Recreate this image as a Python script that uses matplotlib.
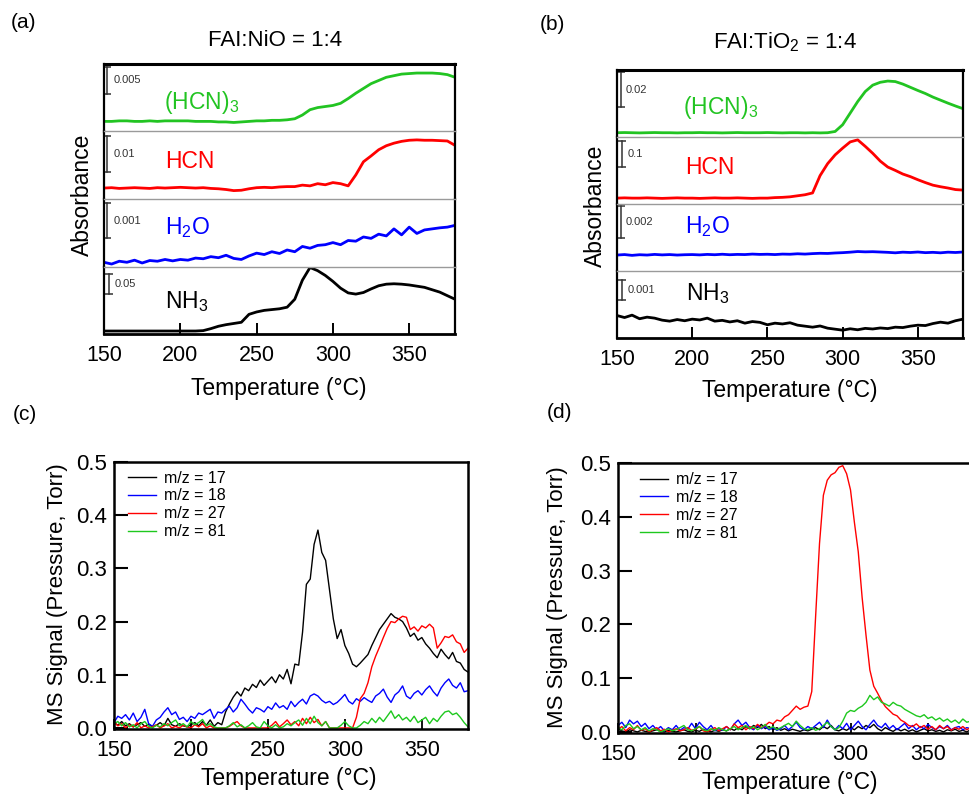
import matplotlib
matplotlib.use('Agg')
import matplotlib.pyplot as plt
from matplotlib.ticker import FormatStrFormatter
import numpy as np

plt.rcParams['font.family'] = ['Liberation Sans', 'DejaVu Sans']
plt.rcParams['mathtext.default'] = 'regular'

W, H = 969, 794

# ---------------- data ----------------
temp_ir = np.arange(150, 381, 5)        # FTIR traces, 5 degC steps
temp_ms = np.arange(150, 380.1, 2.5)    # MS traces, 2.5 degC steps

# (a) FAI:NiO, absorbance
a_hcn3 = [0.0000, 0.0000, 0.0001, 0.0001, 0.0000, 0.0000, 0.0001, 0.0000, 0.0001, 0.0001,
          0.0001, 0.0001, 0.0000, 0.0000, 0.0000, -0.0001, -0.0001, -0.0002, -0.0001, 0.0000,
          0.0001, 0.0001, 0.0002, 0.0002, 0.0003, 0.0005, 0.0012, 0.0022, 0.0026, 0.0028,
          0.0030, 0.0034, 0.0043, 0.0053, 0.0062, 0.0071, 0.0077, 0.0083, 0.0086, 0.0089,
          0.0090, 0.0091, 0.0091, 0.0091, 0.0090, 0.0088, 0.0083]
a_hcn = [0.0000, 0.0001, -0.0001, 0.0000, 0.0001, 0.0000, -0.0001, 0.0001, 0.0000, 0.0001,
         0.0002, 0.0001, 0.0000, 0.0001, -0.0001, -0.0002, -0.0004, -0.0007, -0.0006, -0.0002,
         0.0001, 0.0002, 0.0001, 0.0003, 0.0004, 0.0004, 0.0008, 0.0006, 0.0012, 0.0009,
         0.0015, 0.0012, 0.0006, 0.0036, 0.0072, 0.0088, 0.0105, 0.0116, 0.0123, 0.0128,
         0.0131, 0.0132, 0.0131, 0.0131, 0.0130, 0.0129, 0.0117]
a_h2o = [0.00000, -0.00005, 0.00003, 0.00000, 0.00006, -0.00002, 0.00005, 0.00003, 0.00008, 0.00004,
         0.00008, 0.00006, 0.00012, 0.00010, 0.00016, 0.00013, 0.00020, 0.00011, 0.00008, 0.00018,
         0.00026, 0.00022, 0.00030, 0.00025, 0.00035, 0.00030, 0.00045, 0.00040, 0.00048, 0.00050,
         0.00056, 0.00050, 0.00062, 0.00060, 0.00072, 0.00068, 0.00080, 0.00075, 0.00095, 0.00078,
         0.00100, 0.00082, 0.00092, 0.00095, 0.00098, 0.00100, 0.00105]
a_nh3 = [0.000, 0.000, 0.000, 0.000, 0.000, 0.000, 0.000, 0.000, 0.000, 0.000,
         0.000, 0.000, 0.000, 0.001, 0.006, 0.012, 0.016, 0.019, 0.022, 0.042,
         0.048, 0.052, 0.054, 0.056, 0.060, 0.080, 0.128, 0.160, 0.152, 0.140,
         0.125, 0.108, 0.096, 0.093, 0.097, 0.106, 0.114, 0.118, 0.119, 0.118,
         0.116, 0.113, 0.110, 0.104, 0.098, 0.089, 0.080]

# (b) FAI:TiO2, absorbance
b_hcn3 = [0.0000, 0.0001, 0.0000, -0.0001, 0.0000, 0.0001, 0.0000, 0.0000, -0.0001, 0.0000,
          0.0000, 0.0001, 0.0000, 0.0000, -0.0001, 0.0000, 0.0001, 0.0000, 0.0000, 0.0000,
          0.0001, 0.0000, -0.0001, 0.0000, 0.0000, -0.0001, 0.0000, -0.0001, 0.0000, 0.0007,
          0.0045, 0.0110, 0.0175, 0.0231, 0.0267, 0.0283, 0.0290, 0.0287, 0.0273, 0.0255,
          0.0237, 0.0220, 0.0200, 0.0183, 0.0166, 0.0150, 0.0135]
b_hcn = [0.000, 0.001, 0.000, 0.000, 0.001, 0.000, -0.001, 0.000, 0.001, 0.000,
         0.000, -0.001, 0.000, 0.001, 0.000, 0.000, 0.001, 0.000, -0.001, 0.000,
         0.000, 0.002, 0.003, 0.005, 0.009, 0.013, 0.020, 0.087, 0.133, 0.167,
         0.193, 0.217, 0.225, 0.200, 0.173, 0.143, 0.120, 0.107, 0.093, 0.083,
         0.071, 0.060, 0.050, 0.044, 0.039, 0.033, 0.031]
b_h2o = [0.00000, 0.00003, -0.00002, 0.00002, 0.00000, 0.00004, 0.00001, 0.00003, 0.00000, 0.00002,
         0.00003, 0.00001, 0.00004, 0.00002, 0.00005, 0.00002, 0.00004, 0.00003, 0.00006, 0.00004,
         0.00005, 0.00003, 0.00006, 0.00005, 0.00008, 0.00006, 0.00009, 0.00011, 0.00010, 0.00013,
         0.00015, 0.00018, 0.00022, 0.00020, 0.00021, 0.00019, 0.00017, 0.00014, 0.00018, 0.00016,
         0.00019, 0.00015, 0.00017, 0.00014, 0.00018, 0.00016, 0.00019]
b_nh3 = [0.00068, 0.00058, 0.00070, 0.00052, 0.00060, 0.00055, 0.00045, 0.00040, 0.00048, 0.00042,
         0.00050, 0.00046, 0.00055, 0.00040, 0.00044, 0.00036, 0.00042, 0.00030, 0.00038, 0.00034,
         0.00022, 0.00030, 0.00026, 0.00032, 0.00020, 0.00015, 0.00010, 0.00016, 0.00005, 0.00000,
         -0.00005, 0.00002, -0.00003, 0.00004, 0.00001, 0.00006, 0.00003, 0.00010, 0.00008, 0.00015,
         0.00020, 0.00018, 0.00028, 0.00035, 0.00030, 0.00042, 0.00050]

# scale bar sizes shown in each strip
a_bars = [0.005, 0.01, 0.001, 0.05]
b_bars = [0.02, 0.1, 0.002, 0.001]
species = ['(HCN)$_3$', 'HCN', 'H$_2$O', 'NH$_3$']

# (c) FAI:NiO, MS signal (Torr)
c_m17 = [0.010, 0.005, 0.012, 0.004, 0.008, 0.002, 0.006, 0.010, 0.003, 0.007,
         0.002, 0.005, 0.010, 0.004, 0.018, 0.006, 0.003, 0.008, 0.004, 0.002,
         0.006, 0.010, 0.004, 0.012, 0.005, 0.015, 0.003, 0.010, 0.006, 0.030,
         0.045, 0.058, 0.068, 0.060, 0.075, 0.070, 0.082, 0.076, 0.090, 0.080,
         0.088, 0.096, 0.085, 0.100, 0.092, 0.110, 0.083, 0.120, 0.118, 0.180,
         0.270, 0.280, 0.345, 0.372, 0.330, 0.315, 0.260, 0.205, 0.168, 0.185,
         0.155, 0.140, 0.120, 0.115, 0.122, 0.130, 0.138, 0.155, 0.170, 0.185,
         0.195, 0.205, 0.215, 0.208, 0.205, 0.200, 0.188, 0.172, 0.178, 0.165,
         0.170, 0.158, 0.150, 0.140, 0.132, 0.148, 0.138, 0.130, 0.142, 0.125,
         0.122, 0.110, 0.105]
c_m18 = [0.010, 0.022, 0.018, 0.025, 0.015, 0.028, 0.012, 0.020, 0.035, 0.008,
         0.003, 0.015, 0.020, 0.030, 0.038, 0.025, 0.030, 0.016, 0.020, 0.012,
         0.022, 0.018, 0.028, 0.025, 0.030, 0.035, 0.018, 0.030, 0.028, 0.035,
         0.041, 0.030, 0.038, 0.054, 0.045, 0.035, 0.028, 0.038, 0.035, 0.030,
         0.040, 0.035, 0.047, 0.038, 0.042, 0.035, 0.050, 0.040, 0.048, 0.054,
         0.045, 0.060, 0.064, 0.060, 0.052, 0.047, 0.050, 0.044, 0.048, 0.055,
         0.063, 0.050, 0.045, 0.055, 0.050, 0.057, 0.052, 0.048, 0.060, 0.065,
         0.073, 0.058, 0.048, 0.062, 0.068, 0.079, 0.060, 0.055, 0.065, 0.070,
         0.062, 0.072, 0.079, 0.068, 0.060, 0.075, 0.085, 0.092, 0.080, 0.075,
         0.085, 0.068, 0.070]
c_m27 = [0.012, 0.004, 0.008, 0.000, 0.006, 0.002, 0.010, 0.000, 0.004, 0.000,
         0.002, 0.006, 0.000, 0.004, 0.008, 0.000, 0.003, 0.000, 0.005, 0.002,
         0.000, 0.006, 0.002, 0.008, 0.000, 0.004, 0.000, 0.000, 0.000, 0.000,
         0.003, 0.008, 0.012, 0.004, 0.000, 0.000, 0.000, 0.000, 0.000, 0.000,
         0.000, 0.005, 0.012, 0.002, 0.008, 0.015, 0.006, 0.012, 0.004, 0.018,
         0.008, 0.020, 0.010, 0.016, 0.004, 0.012, 0.000, 0.000, 0.000, 0.000,
         0.000, 0.000, 0.000, 0.020, 0.055, 0.065, 0.085, 0.115, 0.135, 0.152,
         0.170, 0.187, 0.200, 0.198, 0.205, 0.210, 0.208, 0.185, 0.190, 0.182,
         0.192, 0.188, 0.195, 0.188, 0.150, 0.160, 0.172, 0.170, 0.175, 0.162,
         0.158, 0.142, 0.150]
c_m81 = [0.008, 0.012, 0.004, 0.010, 0.002, 0.006, 0.000, 0.008, 0.012, 0.003,
         0.000, 0.005, 0.002, 0.008, 0.004, 0.010, 0.015, 0.004, 0.008, 0.002,
         0.012, 0.006, 0.010, 0.016, 0.004, 0.008, 0.002, 0.000, 0.000, 0.000,
         0.004, 0.010, 0.002, 0.006, 0.000, 0.004, 0.010, 0.002, 0.000, 0.012,
         0.004, 0.000, 0.006, 0.000, 0.002, 0.008, 0.004, 0.010, 0.015, 0.005,
         0.018, 0.008, 0.022, 0.010, 0.004, 0.012, 0.000, 0.000, 0.000, 0.005,
         0.012, 0.004, 0.000, 0.000, 0.005, 0.012, 0.008, 0.018, 0.010, 0.020,
         0.012, 0.022, 0.032, 0.018, 0.025, 0.015, 0.020, 0.012, 0.022, 0.010,
         0.015, 0.020, 0.008, 0.018, 0.012, 0.022, 0.030, 0.032, 0.025, 0.028,
         0.020, 0.010, 0.002]

# (d) FAI:TiO2, MS signal (Torr)
d_m17 = [0.006, 0.002, 0.000, 0.004, 0.002, 0.000, 0.003, 0.001, 0.000, 0.002,
         0.004, 0.001, 0.000, 0.003, 0.001, 0.000, 0.002, 0.004, 0.001, 0.000,
         0.003, 0.001, 0.005, 0.002, 0.000, 0.003, 0.001, 0.004, 0.002, 0.006,
         0.003, 0.008, 0.004, 0.010, 0.006, 0.012, 0.008, 0.014, 0.006, 0.010,
         0.004, 0.008, 0.003, 0.006, 0.002, 0.005, 0.003, 0.001, 0.004, 0.002,
         0.005, 0.008, 0.004, 0.010, 0.006, 0.012, 0.004, 0.002, 0.006, 0.003,
         0.008, 0.004, 0.010, 0.006, 0.012, 0.008, 0.014, 0.006, 0.002, 0.008,
         0.004, 0.001, 0.006, 0.002, 0.005, 0.001, 0.004, 0.000, 0.003, 0.006,
         0.002, 0.004, 0.001, 0.003, 0.000, 0.004, 0.002, 0.005, 0.001, 0.003,
         0.000, 0.004, 0.002]
d_m18 = [0.012, 0.018, 0.008, 0.022, 0.015, 0.020, 0.010, 0.016, 0.006, 0.012,
         0.004, 0.010, 0.002, 0.008, 0.004, 0.012, 0.003, 0.008, 0.005, 0.016,
         0.006, 0.018, 0.010, 0.004, 0.012, 0.002, 0.006, 0.003, 0.010, 0.004,
         0.015, 0.022, 0.012, 0.018, 0.008, 0.004, 0.012, 0.006, 0.010, 0.004,
         0.008, 0.003, 0.006, 0.012, 0.004, 0.010, 0.018, 0.008, 0.004, 0.010,
         0.006, 0.012, 0.018, 0.008, 0.022, 0.010, 0.004, 0.012, 0.006, 0.016,
         0.004, 0.012, 0.020, 0.010, 0.004, 0.014, 0.022, 0.012, 0.008, 0.016,
         0.006, 0.012, 0.004, 0.010, 0.016, 0.006, 0.012, 0.004, 0.010, 0.006,
         0.014, 0.008, 0.004, 0.010, 0.006, 0.012, 0.004, 0.008, 0.010, 0.004,
         0.008, 0.006, 0.010]
d_m27 = [0.005, 0.010, 0.002, 0.008, 0.004, 0.012, 0.003, 0.006, 0.000, 0.004,
         0.008, 0.002, 0.005, 0.000, 0.003, 0.006, 0.002, 0.004, 0.008, 0.003,
         0.005, 0.010, 0.002, 0.000, 0.004, 0.008, 0.002, 0.006, 0.010, 0.004,
         0.015, 0.008, 0.012, 0.004, 0.010, 0.006, 0.014, 0.008, 0.012, 0.018,
         0.015, 0.022, 0.020, 0.028, 0.032, 0.040, 0.048, 0.042, 0.046, 0.048,
         0.075, 0.215, 0.350, 0.440, 0.468, 0.478, 0.482, 0.492, 0.495, 0.480,
         0.450, 0.390, 0.335, 0.250, 0.180, 0.115, 0.085, 0.072, 0.058, 0.047,
         0.040, 0.033, 0.030, 0.022, 0.018, 0.012, 0.010, 0.015, 0.008, 0.012,
         0.005, 0.010, 0.004, 0.012, 0.006, 0.010, 0.003, 0.008, 0.005, 0.010,
         0.004, 0.008, 0.006]
d_m81 = [0.008, 0.004, 0.012, 0.015, 0.006, 0.010, 0.004, 0.008, 0.002, 0.006,
         0.004, 0.000, 0.003, 0.006, 0.002, 0.004, 0.008, 0.012, 0.004, 0.002,
         0.006, 0.010, 0.004, 0.002, 0.006, 0.003, 0.008, 0.004, 0.002, 0.006,
         0.010, 0.004, 0.008, 0.012, 0.006, 0.010, 0.004, 0.008, 0.014, 0.006,
         0.010, 0.004, 0.008, 0.012, 0.016, 0.010, 0.020, 0.012, 0.006, 0.004,
         0.008, 0.003, 0.006, 0.012, 0.018, 0.010, 0.004, 0.008, 0.020, 0.035,
         0.040, 0.038, 0.044, 0.048, 0.055, 0.068, 0.060, 0.065, 0.055, 0.052,
         0.048, 0.055, 0.050, 0.048, 0.042, 0.038, 0.034, 0.030, 0.028, 0.032,
         0.025, 0.028, 0.022, 0.026, 0.020, 0.024, 0.018, 0.022, 0.016, 0.024,
         0.018, 0.020, 0.016]

ms_labels = ['m/z = 17', 'm/z = 18', 'm/z = 27', 'm/z = 81']
ms_colors = ['black', '#0000ff', '#ff0000', '#1ec81e']
ir_colors = ['#22c422', '#ff0000', '#0000ff', 'black']


fig = plt.figure(figsize=(W / 100, H / 100), dpi=100)


def px_rect(left, top, right, bottom):
    return [left / W, 1 - bottom / H, (right - left) / W, (bottom - top) / H]


def draw_strips(box, traces, limits, bars, bar_pos, name_pos):
    """Stacked absorbance strips sharing one temperature axis"""
    left, top, right, bottom = box
    h = (bottom - top) / len(traces)
    for i, vals in enumerate(traces):
        ax = fig.add_axes(px_rect(left, top + i * h, right, top + (i + 1) * h))
        ax.plot(temp_ir, vals, color=ir_colors[i], lw=2.0)
        ax.set_xlim(150, 380)
        ax.set_ylim(*limits[i])
        ax.set_yticks([])
        for s in ('left', 'right'):
            ax.spines[s].set_linewidth(1.6)
        if i == 0:
            ax.spines['top'].set_linewidth(2.2)
        else:
            ax.spines['top'].set_color('#9a9a9a')
            ax.spines['top'].set_linewidth(1.0)
        if i < len(traces) - 1:
            ax.spines['bottom'].set_visible(False)
            ax.set_xticks([])
        else:
            ax.spines['bottom'].set_linewidth(2.0)
            ax.set_xticks([150, 200, 250, 300, 350])
            ax.tick_params(axis='x', direction='in', length=8, width=1.4,
                           labelsize=15.5, pad=8)
        # scale bar
        bx, btop, lx = bar_pos[i]
        ax.plot([bx, bx], [btop - bars[i], btop], color='#333333', lw=1.1,
                marker='_', markersize=6, mew=1.1)
        ax.text(lx, btop - bars[i] / 2, str(bars[i]), fontsize=8, va='center',
                color='#333333')
        nx, ny = name_pos[i]
        ax.text(nx, ny, species[i], color=ir_colors[i], fontsize=16.5,
                va='center')


draw_strips((104, 64, 455, 334), [a_hcn3, a_hcn, a_h2o, a_nh3],
            [(-0.0019, 0.0108), (-0.0030, 0.0155), (-0.00012, 0.0018), (-0.0075, 0.1625)],
            a_bars,
            [(152, 0.0102, 156), (152, 0.01435, 156), (152, 0.00168, 156), (153, 0.144, 157)],
            [(189, 0.0036), (190, 0.0072), (190, 0.0010), (190, 0.075)])
draw_strips((617, 70, 963, 338), [b_hcn3, b_hcn, b_h2o, b_nh3],
            [(-0.0024, 0.0352), (-0.0227, 0.236), (-0.0010, 0.0032), (-0.00044, 0.0029)],
            b_bars,
            [(152.5, 0.0342, 155.5), (153.5, 0.22, 157), (152.5, 0.00307, 155.5), (153.5, 0.00243, 157)],
            [(194, 0.0139), (195, 0.120), (195, 0.00176), (196, 0.0018)])


def draw_ms(box, traces, anchor):
    ax = fig.add_axes(px_rect(*box))
    for vals, col, lab in zip(traces, ms_colors, ms_labels):
        ax.plot(temp_ms, vals, color=col, lw=1.0, label=lab)
    ax.set_xlim(150, 380)
    ax.set_ylim(-0.002, 0.5)
    ax.set_xticks([150, 200, 250, 300, 350])
    ax.set_yticks([0, 0.1, 0.2, 0.3, 0.4, 0.5])
    ax.yaxis.set_major_formatter(FormatStrFormatter('%.1f'))
    ax.tick_params(axis='y', direction='in', length=10, width=1.5, labelsize=16, pad=5)
    ax.tick_params(axis='x', direction='in', length=7, width=1.3, labelsize=15.5, pad=8)
    for s in ax.spines.values():
        s.set_linewidth(1.8)
    ax.legend(loc='upper left', bbox_to_anchor=anchor, frameon=False, fontsize=11.5,
              handlelength=1.75, handletextpad=0.5, labelspacing=0.18,
              borderpad=0, borderaxespad=0)


draw_ms((114, 462, 468, 729), [c_m17, c_m18, c_m27, c_m81], (0.04, 0.968))
draw_ms((618, 463, 974.5, 733), [d_m17, d_m18, d_m27, d_m81], (0.062, 0.966))

# titles, axis labels and panel letters
fig.text(275 / W, 1 - 41 / H, 'FAI:NiO = 1:4', fontsize=16, ha='center', va='center')
fig.text(785 / W, 1 - 42 / H, 'FAI:TiO$_2$ = 1:4', fontsize=16, ha='center', va='center')
fig.text(82 / W, 1 - 195 / H, 'Absorbance', fontsize=16.5, rotation=90, ha='center', va='center')
fig.text(595 / W, 1 - 206 / H, 'Absorbance', fontsize=16.5, rotation=90, ha='center', va='center')
fig.text(279 / W, 1 - 389 / H, 'Temperature (°C)', fontsize=16.5, ha='center', va='center')
fig.text(790 / W, 1 - 390 / H, 'Temperature (°C)', fontsize=16.5, ha='center', va='center')
fig.text(289 / W, 1 - 779 / H, 'Temperature (°C)', fontsize=16.5, ha='center', va='center')
fig.text(790 / W, 1 - 783 / H, 'Temperature (°C)', fontsize=16.5, ha='center', va='center')
fig.text(57 / W, 1 - 594 / H, 'MS Signal (Pressure, Torr)', fontsize=16, rotation=90,
         ha='center', va='center')
fig.text(558 / W, 1 - 597 / H, 'MS Signal (Pressure, Torr)', fontsize=16, rotation=90,
         ha='center', va='center')
for lab, x, y in [('(a)', 24, 22), ('(b)', 552, 25), ('(c)', 25, 414), ('(d)', 559, 413)]:
    fig.text(x / W, 1 - y / H, lab, fontsize=15, ha='center', va='center')

fig.savefig('out.png', dpi=100)
